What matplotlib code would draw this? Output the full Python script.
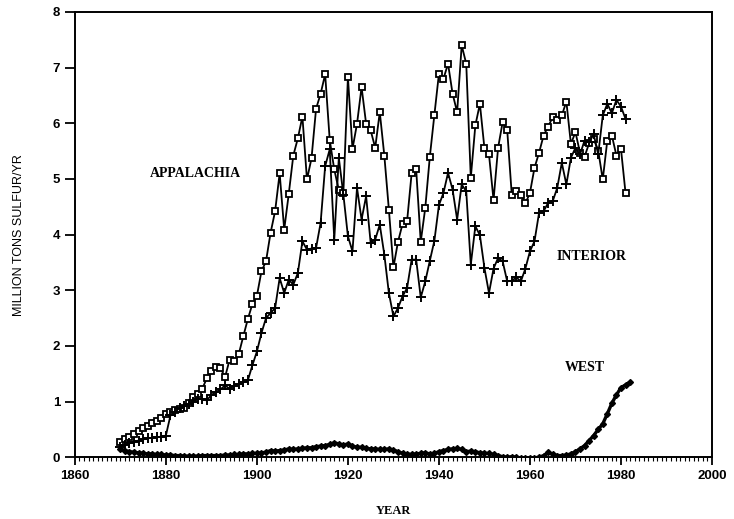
import numpy as np
import matplotlib
matplotlib.use('Agg')
import matplotlib.pyplot as plt
from matplotlib.ticker import MultipleLocator

# annual estimates, million tons sulfur per year
years = list(range(1870, 1982))
years_west = list(range(1870, 1983))

appalachia = [0.27, 0.32, 0.37, 0.42, 0.47, 0.52, 0.57, 0.61, 0.66, 0.71,
              0.77, 0.82, 0.85, 0.86, 0.88, 0.98, 1.08, 1.13, 1.23, 1.42,
              1.55, 1.62, 1.60, 1.44, 1.75, 1.72, 1.85, 2.17, 2.48, 2.75,
              2.90, 3.34, 3.52, 4.03, 4.42, 5.10, 4.09, 4.73, 5.42, 5.73,
              6.12, 4.99, 5.37, 6.26, 6.53, 6.88, 5.70, 5.17, 4.80, 4.75,
              6.83, 5.54, 5.99, 6.65, 5.99, 5.87, 5.56, 6.20, 5.42, 4.45,
              3.41, 3.87, 4.19, 4.24, 5.10, 5.17, 3.87, 4.48, 5.40, 6.15,
              6.89, 6.80, 7.07, 6.53, 6.20, 7.40, 7.07, 5.02, 5.96, 6.35,
              5.55, 5.44, 4.62, 5.56, 6.02, 5.88, 4.72, 4.78, 4.72, 4.56,
              4.75, 5.20, 5.47, 5.78, 5.94, 6.11, 6.05, 6.14, 6.39, 5.63,
              5.84, 5.47, 5.40, 5.64, 5.72, 5.51, 4.99, 5.69, 5.78, 5.42,
              5.54, 4.75]

interior = [0.18, 0.22, 0.25, 0.28, 0.30, 0.32, 0.34, 0.35, 0.36, 0.37,
            0.39, 0.75, 0.82, 0.88, 0.92, 0.96, 1.00, 1.05, 1.04, 1.02,
            1.12, 1.17, 1.22, 1.29, 1.23, 1.28, 1.32, 1.35, 1.38, 1.65,
            1.90, 2.23, 2.50, 2.59, 2.68, 3.22, 2.95, 3.19, 3.10, 3.31,
            3.88, 3.73, 3.75, 3.76, 4.21, 5.23, 5.53, 3.91, 5.38, 4.72,
            3.97, 3.70, 4.84, 4.27, 4.69, 3.85, 3.91, 4.18, 3.64, 2.95,
            2.53, 2.68, 2.89, 3.04, 3.55, 3.55, 2.87, 3.16, 3.53, 3.89,
            4.53, 4.75, 5.11, 4.81, 4.27, 4.90, 4.78, 3.46, 4.15, 3.99,
            3.40, 2.95, 3.39, 3.58, 3.52, 3.16, 3.17, 3.23, 3.16, 3.39,
            3.70, 3.88, 4.39, 4.42, 4.57, 4.60, 4.84, 5.29, 4.90, 5.38,
            5.56, 5.44, 5.69, 5.66, 5.80, 5.44, 6.14, 6.35, 6.18, 6.42,
            6.30, 6.08]

west = [0.15, 0.12, 0.10, 0.09, 0.08, 0.07, 0.06, 0.06, 0.05, 0.05,
        0.04, 0.04, 0.03, 0.03, 0.02, 0.02, 0.02, 0.02, 0.03, 0.03,
        0.03, 0.03, 0.03, 0.04, 0.04, 0.05, 0.05, 0.06, 0.06, 0.07,
        0.07, 0.08, 0.09, 0.12, 0.11, 0.12, 0.13, 0.15, 0.14, 0.15,
        0.16, 0.17, 0.17, 0.19, 0.20, 0.21, 0.23, 0.26, 0.24, 0.22,
        0.24, 0.20, 0.18, 0.18, 0.16, 0.15, 0.15, 0.14, 0.14, 0.15,
        0.13, 0.10, 0.07, 0.06, 0.05, 0.06, 0.07, 0.08, 0.06, 0.07,
        0.10, 0.12, 0.14, 0.15, 0.16, 0.14, 0.10, 0.11, 0.10, 0.08,
        0.07, 0.07, 0.05, 0.03, 0.01, 0.00, 0.01, 0.00, -0.01, -0.02,
        -0.02, -0.01, 0.00, 0.03, 0.09, 0.05, 0.03, 0.03, 0.04, 0.06,
        0.10, 0.15, 0.21, 0.30, 0.39, 0.50, 0.60, 0.78, 0.97, 1.12,
        1.25, 1.30, 1.35]

region_labels = ['APPALACHIA', 'INTERIOR', 'WEST']
label_pos = [(1886.5, 5.1), (1973.5, 3.6), (1972.0, 1.62)]

fig = plt.figure(figsize=(7.34, 5.19), dpi=100)
ax = fig.add_axes([0.102, 0.119, 0.868, 0.858])

ax.plot(years, appalachia, color='black', lw=1.3, marker='s', ms=4.6,
        mfc='white', mec='black', mew=1.3)
ax.plot(years, interior, color='black', lw=1.3, marker='+', ms=6.5, mew=1.4)
ax.plot(years_west, west, color='black', lw=2.4, marker='D', ms=3.0,
        mfc='black', mec='black')

for txt, (x, y) in zip(region_labels, label_pos):
    ax.text(x, y, txt, family='Liberation Serif', fontweight='bold',
            fontsize=10, ha='center', va='center')

ax.set_xlim(1860, 2000)
ax.set_ylim(0, 8)
ax.xaxis.set_major_locator(MultipleLocator(20))
ax.xaxis.set_minor_locator(MultipleLocator(1))
ax.yaxis.set_major_locator(MultipleLocator(1))
ax.tick_params(axis='x', which='major', direction='out', length=6, width=1.3)
ax.tick_params(axis='x', which='minor', direction='out', length=3, width=0.8)
ax.tick_params(axis='y', which='major', direction='out', length=7, width=1.3)
for lab in ax.get_xticklabels() + ax.get_yticklabels():
    lab.set_family('Liberation Sans')
    lab.set_fontweight('bold')
    lab.set_fontsize(9.5)
for sp in ax.spines.values():
    sp.set_linewidth(1.4)

ax.set_xlabel('YEAR', family='Liberation Serif', fontweight='bold',
              fontsize=9, labelpad=16)
ax.set_ylabel('MILLION TONS SULFUR/YR', family='Liberation Sans',
              fontsize=9, labelpad=20)

plt.savefig('out.png', dpi=100)
